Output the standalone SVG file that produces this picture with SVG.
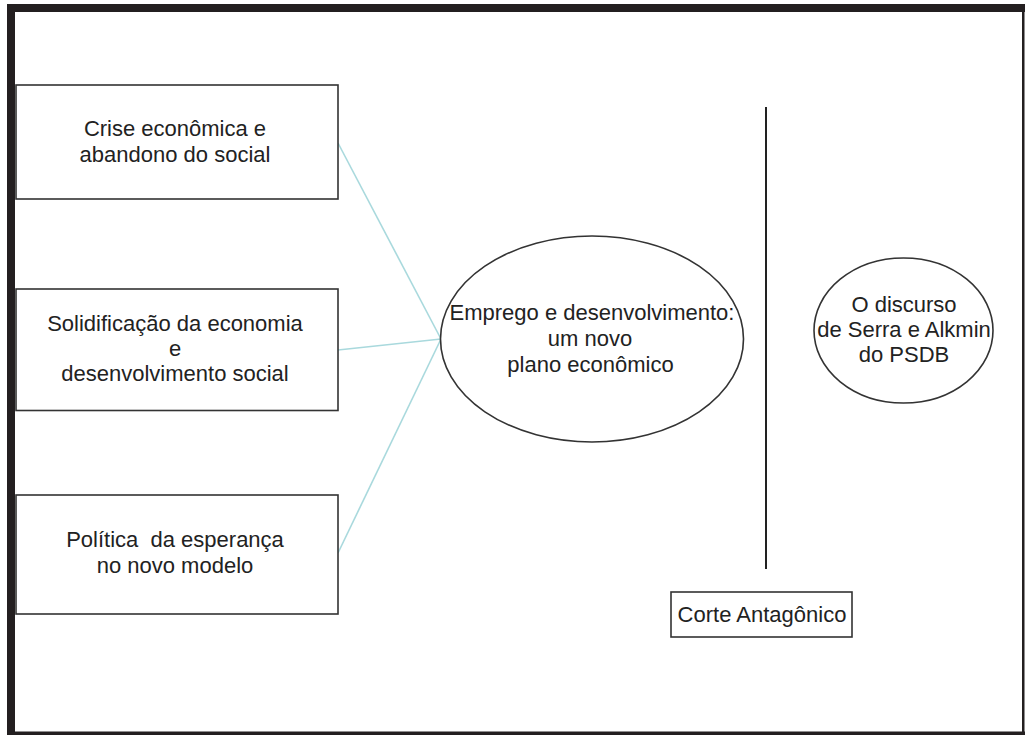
<svg xmlns="http://www.w3.org/2000/svg" width="1025" height="735" viewBox="0 0 1025 735">
<style>
.box{fill:#fff;stroke:#333;stroke-width:1.6}
.ell{fill:#fff;stroke:#333;stroke-width:1.6}
.lbl{font-family:"Liberation Sans",Arial,sans-serif;font-size:22px;fill:#222;text-anchor:middle}
.conn{stroke:#a9d9dd;stroke-width:1.6;fill:none}
.frame{fill:#231f20}
</style>
<rect width="1025" height="735" fill="#fff"/>
<g id="frame">
<rect class="frame" x="7" y="4" width="1018" height="8"/>
<rect class="frame" x="7" y="4" width="8" height="731"/>
<rect class="frame" x="1022" y="4" width="2.5" height="731"/>
<rect class="frame" x="7" y="731.5" width="1018" height="3.5"/>
</g>
<g id="connectors">
<line class="conn" x1="338" y1="143" x2="441" y2="339"/>
<line class="conn" x1="338" y1="350" x2="441" y2="339"/>
<line class="conn" x1="338" y1="553" x2="441" y2="339"/>
</g>
<g id="box1">
<rect class="box" x="16" y="85" width="322" height="114"/>
<text class="lbl" x="175" y="136">Crise econômica e</text>
<text class="lbl" x="175" y="161.5">abandono do social</text>
</g>
<g id="box2">
<rect class="box" x="16" y="289" width="322" height="121.5"/>
<text class="lbl" x="175" y="330.5">Solidificação da economia</text>
<text class="lbl" x="175" y="356">e</text>
<text class="lbl" x="175" y="381">desenvolvimento social</text>
</g>
<g id="box3">
<rect class="box" x="16" y="495" width="322" height="119"/>
<text class="lbl" x="175" y="547" xml:space="preserve">Política  da esperança</text>
<text class="lbl" x="175" y="573">no novo modelo</text>
</g>
<g id="ellipse-main">
<ellipse class="ell" cx="592" cy="339" rx="151.5" ry="103"/>
<text class="lbl" x="592" y="320">Emprego e desenvolvimento:</text>
<text class="lbl" x="590" y="346">um novo</text>
<text class="lbl" x="590.5" y="371.5">plano econômico</text>
</g>
<g id="divider">
<line x1="766" y1="107" x2="766" y2="569" stroke="#222" stroke-width="2"/>
</g>
<g id="ellipse-psdb">
<ellipse class="ell" cx="903.5" cy="330.5" rx="89.5" ry="72.5"/>
<text class="lbl" x="904" y="311.5">O discurso</text>
<text class="lbl" x="904" y="337">de Serra e Alkmin</text>
<text class="lbl" x="904" y="361.5">do PSDB</text>
</g>
<g id="corte">
<rect class="box" x="671" y="592" width="181" height="45"/>
<text class="lbl" x="762" y="622">Corte Antagônico</text>
</g>
</svg>
